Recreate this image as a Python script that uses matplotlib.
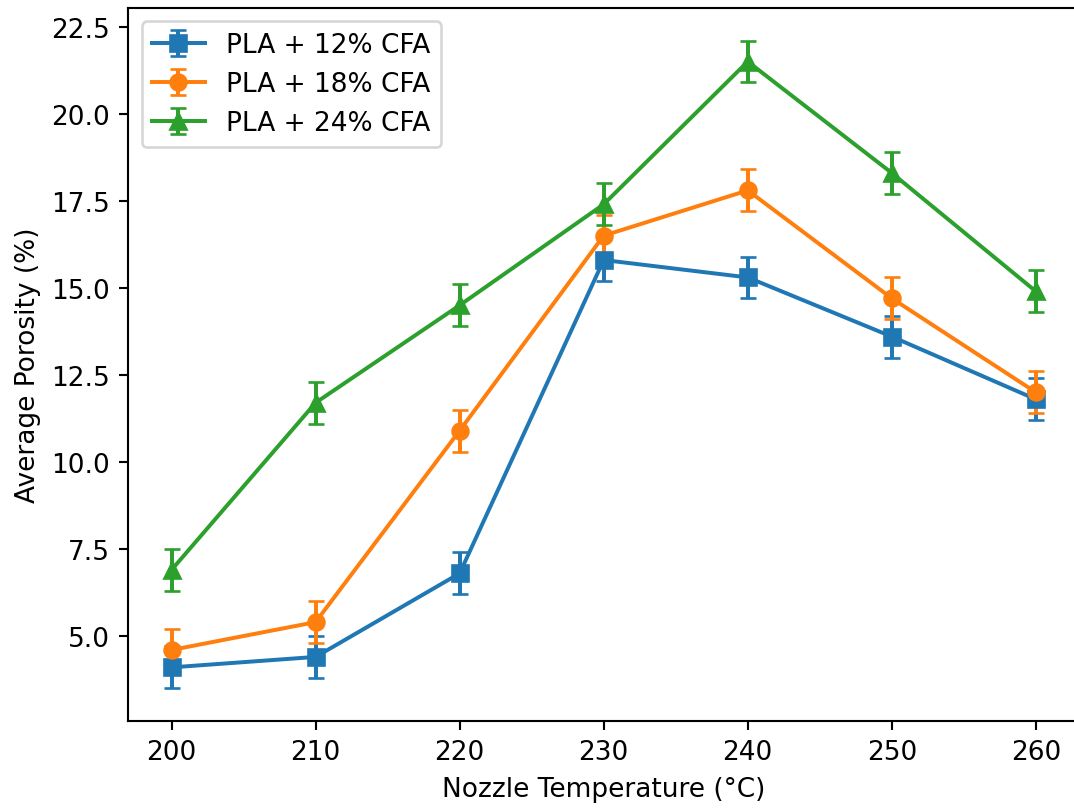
import matplotlib
matplotlib.use("Agg")
import matplotlib.pyplot as plt

temps = [200, 210, 220, 230, 240, 250, 260]
por_12 = [4.1, 4.4, 6.8, 15.8, 15.3, 13.6, 11.8]
por_18 = [4.6, 5.4, 10.9, 16.5, 17.8, 14.7, 12.0]
por_24 = [6.9, 11.7, 14.5, 17.4, 21.5, 18.3, 14.9]
err_12 = [0.6, 0.6, 0.6, 0.6, 0.6, 0.6, 0.6]
err_18 = [0.6, 0.6, 0.6, 0.6, 0.6, 0.6, 0.6]
err_24 = [0.6, 0.6, 0.6, 0.6, 0.6, 0.6, 0.6]
labels = ["PLA + 12% CFA", "PLA + 18% CFA", "PLA + 24% CFA"]

dpi = 190
fig = plt.figure(figsize=(1074 / dpi, 809 / dpi), dpi=dpi)
ax = fig.add_subplot(111)
fig.subplots_adjust(left=0.1195, right=1.0047, top=0.9885, bottom=0.108)

ax.errorbar(temps, por_12, yerr=err_12, marker='s', capsize=3, label=labels[0])
ax.errorbar(temps, por_18, yerr=err_18, marker='o', capsize=3, label=labels[1])
ax.errorbar(temps, por_24, yerr=err_24, marker='^', capsize=3, label=labels[2])

ax.set_xlabel("Nozzle Temperature (°C)")
ax.set_ylabel("Average Porosity (%)")
ax.legend(loc='upper left')

fig.savefig("out.png", dpi=dpi)
